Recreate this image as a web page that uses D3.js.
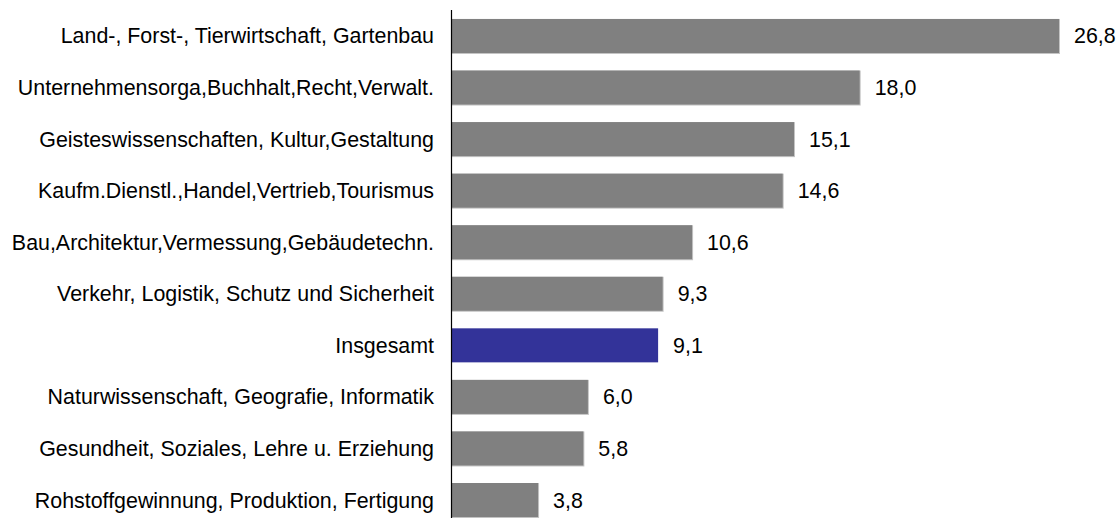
<!DOCTYPE html>
<html><head><meta charset="utf-8">
<script src="https://cdn.jsdelivr.net/npm/d3@7"></script>
<style>body{margin:0;background:#fff}svg{display:block}text{font-family:"Liberation Sans",Arial,sans-serif}</style>
</head><body><svg id="c" width="1120" height="518"></svg>
<script>
const categories = ["Land-, Forst-, Tierwirtschaft, Gartenbau","Unternehmensorga,Buchhalt,Recht,Verwalt.","Geisteswissenschaften, Kultur,Gestaltung","Kaufm.Dienstl.,Handel,Vertrieb,Tourismus","Bau,Architektur,Vermessung,Gebäudetechn.","Verkehr, Logistik, Schutz und Sicherheit","Insgesamt","Naturwissenschaft, Geografie, Informatik","Gesundheit, Soziales, Lehre u. Erziehung","Rohstoffgewinnung, Produktion, Fertigung"];
const values = [26.8,18.0,15.1,14.6,10.6,9.3,9.1,6.0,5.8,3.8];
const highlight = ["Insgesamt"];

const svg = d3.select("#c");
const x = d3.scaleLinear().domain([0, 26.8]).range([452, 1059]);
const y = d3.scaleBand().domain(categories).range([10.2, 10.2 + 51.56*10]).paddingInner(0.34).paddingOuter(0.17);
const fmt = v => d3.format(".1f")(v).replace(".", ",");
const fs = 21.4;

const g = svg.append("g");
g.selectAll("rect.edge").data(categories.filter(d => !highlight.includes(d))).join("rect")
  .attr("class", "edge")
  .attr("x", x(0)).attr("y", d => y(d))
  .attr("width", d => x(values[categories.indexOf(d)]) - x(0) + 1).attr("height", y.bandwidth() + 1)
  .attr("fill", "#c4c4c4");
g.selectAll("rect.bar").data(categories).join("rect")
  .attr("class", "bar")
  .attr("x", x(0)).attr("y", d => y(d))
  .attr("width", (d,i) => x(values[i]) - x(0)).attr("height", y.bandwidth())
  .attr("fill", d => highlight.includes(d) ? "#333399" : "#808080");

svg.append("g").selectAll("text").data(categories).join("text")
  .attr("x", 434).attr("y", d => y(d) + y.bandwidth()/2).attr("dy", "0.35em")
  .attr("text-anchor", "end").attr("font-size", fs).attr("fill", "#000").text(d => d);

svg.append("g").selectAll("text").data(categories).join("text")
  .attr("x", (d,i) => x(values[i]) + 15).attr("y", d => y(d) + y.bandwidth()/2).attr("dy", "0.35em")
  .attr("font-size", fs).attr("fill", "#000").text((d,i) => fmt(values[i]));

svg.append("line").attr("x1", 451.5).attr("x2", 451.5).attr("y1", 10).attr("y2", 518)
  .attr("stroke", "#000").attr("stroke-width", 1.2);
</script></body></html>
